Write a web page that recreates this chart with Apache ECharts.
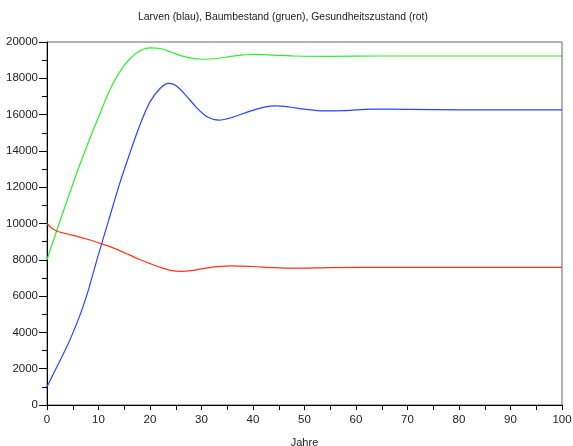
<!DOCTYPE html>
<html>
<head>
<meta charset="utf-8">
<script src="https://cdn.jsdelivr.net/npm/echarts@6/dist/echarts.min.js"></script>
<style>html,body{margin:0;padding:0;background:#fff}#c{width:573px;height:446px}</style>
</head>
<body>
<div id="c"></div>
<script>
var titleText = 'Larven (blau), Baumbestand (gruen), Gesundheitszustand (rot)';
var xAxisName = 'Jahre';

var larvenT = [0, 2, 4, 6, 7, 8, 10, 12, 14, 16, 18, 20, 22, 23.6, 25, 27, 29, 31, 33.4, 36, 39, 42, 44.3, 47, 50, 53.7, 58, 63, 70, 80, 100];
var larvenV = [1000, 2150, 3300, 4650, 5420, 6300, 8300, 10200, 12100, 13800, 15400, 16700, 17450, 17720, 17600, 17050, 16400, 15900, 15700, 15850, 16150, 16400, 16480, 16420, 16300, 16200, 16220, 16300, 16290, 16265, 16260];

var baumT = [0, 2, 4, 6, 8, 10, 12, 14, 16, 18, 20, 22, 24, 26, 28, 30, 33, 36, 40, 44, 48, 55, 65, 80, 100];
var baumV = [8000, 9700, 11350, 12950, 14450, 15850, 17250, 18300, 19050, 19500, 19680, 19640, 19450, 19250, 19110, 19050, 19090, 19220, 19320, 19280, 19230, 19210, 19230, 19230, 19230];

var gesundT = [0, 1, 2, 4, 6, 8, 10, 12, 14, 16, 18, 20, 22, 24, 26, 28, 30, 33, 36, 40, 44, 48, 55, 65, 80, 100];
var gesundV = [10000, 9720, 9570, 9420, 9280, 9120, 8940, 8750, 8520, 8270, 8020, 7790, 7580, 7420, 7360, 7400, 7500, 7620, 7670, 7630, 7570, 7540, 7570, 7590, 7580, 7580];

function pairs(t, v) { return t.map(function (x, i) { return [x, v[i]]; }); }

var font = '"Liberation Sans", Arial, Helvetica, sans-serif';
var chart = echarts.init(document.getElementById('c'));
function line(name, t, v, color) {
  return {
    name: name, type: 'line', data: pairs(t, v), smooth: 0.3, symbol: 'none',
    lineStyle: { color: color, width: 1.2 }, itemStyle: { color: color }
  };
}
chart.setOption({
  animation: false,
  backgroundColor: '#fff',
  title: {
    text: titleText, left: 133, top: 7,
    textStyle: { fontFamily: font, fontSize: 10.4, fontWeight: 'normal', color: '#222' }
  },
  grid: { left: 47, right: 11, top: 42, bottom: 41, show: true, borderColor: '#666', borderWidth: 1, outerBoundsMode: 'none', containLabel: false },
  xAxis: {
    type: 'value', min: 0, max: 100, interval: 10,
    name: xAxisName, nameLocation: 'middle', nameGap: 32,
    nameTextStyle: { fontFamily: font, fontSize: 11, color: '#222' },
    axisLine: { lineStyle: { color: '#000', width: 1 } },
    axisTick: { show: true, length: 5, lineStyle: { color: '#000' } },
    minorTick: { show: true, splitNumber: 2, length: 5, lineStyle: { color: '#000' } },
    axisLabel: { fontFamily: font, fontSize: 11.5, color: '#222', margin: 9 },
    splitLine: { show: false }
  },
  yAxis: {
    type: 'value', min: 0, max: 20000, interval: 2000,
    axisLine: { show: true, lineStyle: { color: '#000', width: 1 } },
    axisTick: { show: true, length: 8, lineStyle: { color: '#000' } },
    minorTick: { show: true, splitNumber: 2, length: 5, lineStyle: { color: '#000' } },
    axisLabel: { fontFamily: font, fontSize: 11.5, color: '#222', margin: 9, formatter: function (v) { return String(v); } },
    splitLine: { show: false }
  },
  series: [
    line('Larven', larvenT, larvenV, '#2846ff'),
    line('Baumbestand', baumT, baumV, '#2eee2e'),
    line('Gesundheitszustand', gesundT, gesundV, '#ff3418')
  ]
});
</script>
</body>
</html>
